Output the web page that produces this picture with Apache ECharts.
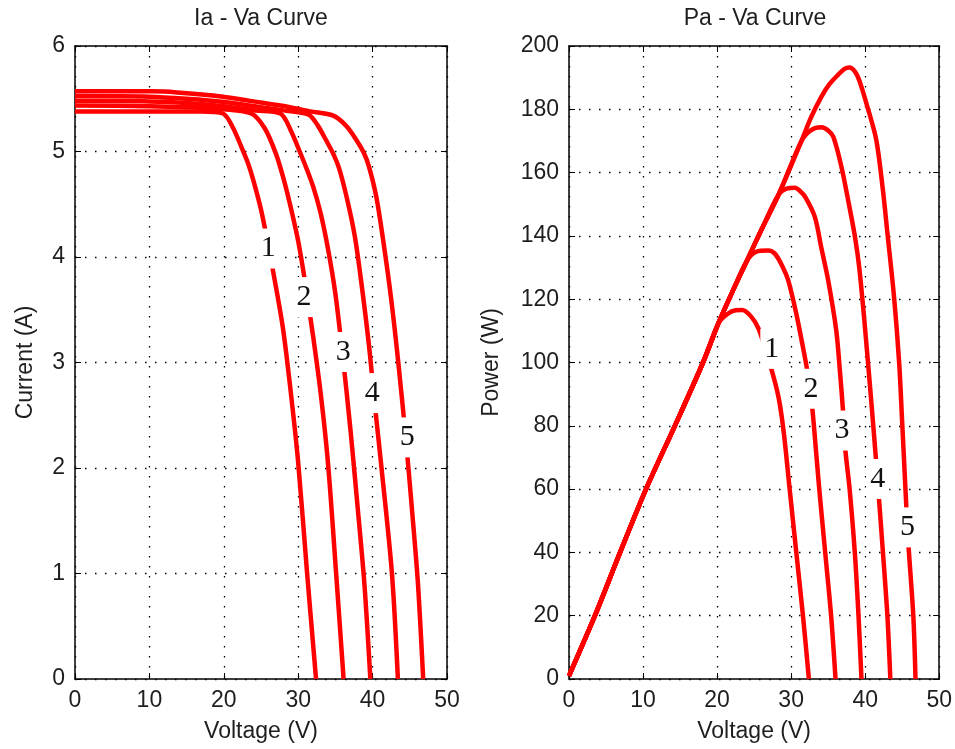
<!DOCTYPE html>
<html>
<head>
<meta charset="utf-8">
<script src="https://cdn.jsdelivr.net/npm/echarts@6/dist/echarts.min.js"></script>
<style>
html,body{margin:0;padding:0;background:#fff;}
#chart{width:955px;height:749px;}
</style>
</head>
<body>
<div id="chart"></div>
<script>
// ---------- Data (Voltage V, Current A) ----------
const ivCurve1 = [[0,5.38],[10,5.38],[17,5.38],[19.9,5.36],[21.2,5.23],[22.5,5.02],[23.3,4.88],[24.0,4.72],[25.0,4.45],[26.0,4.1],[27.0,3.72],[28.0,3.3],[29.0,2.72],[30.0,2.05],[31.2,1.0],[32.4,0]];
const ivCurve2 = [[0,5.435],[10,5.43],[15,5.42],[20,5.40],[23.7,5.36],[25.5,5.22],[27.0,4.98],[28.0,4.75],[29.0,4.47],[30.0,4.15],[31.0,3.73],[32.0,3.25],[33.0,2.72],[34.0,2.05],[35.1,1.0],[36.1,0]];
const ivCurve3 = [[0,5.48],[10,5.475],[15,5.46],[20,5.43],[24,5.39],[27.6,5.36],[29.0,5.2],[30.2,5.0],[31.0,4.86],[32.0,4.67],[33.0,4.42],[34.0,4.08],[35.0,3.65],[36.0,3.05],[37.0,2.38],[38.0,1.62],[38.9,0.9],[39.7,0]];
const ivCurve4 = [[0,5.525],[10,5.52],[15,5.5],[20,5.47],[25,5.42],[28,5.39],[31.4,5.35],[32.6,5.25],[33.8,5.10],[34.7,4.98],[35.5,4.84],[36.5,4.57],[37.6,4.2],[38.5,3.75],[39.5,3.17],[40.3,2.6],[41.2,2.0],[42.6,1.0],[43.4,0]];
const ivCurve5 = [[0,5.57],[10.3,5.57],[13.7,5.56],[19.9,5.52],[23.5,5.48],[28.9,5.42],[31.6,5.38],[34.7,5.34],[36.5,5.24],[37.9,5.10],[38.8,4.99],[39.5,4.86],[40.5,4.57],[41.5,4.12],[42.5,3.6],[43.5,2.97],[44.5,2.25],[45.3,1.6],[46.1,0.9],[46.8,0]];
const ivLabels = [[25.98,4.08,'1'],[30.78,3.62,'2'],[36.06,3.10,'3'],[39.96,2.71,'4'],[44.67,2.29,'5']];

// ---------- Data (Voltage V, Power W) ----------
const pvRise = [[0,1],[3.5,20],[6.9,40],[10.4,60],[14.3,80],[18.1,100],[20.2,112.5],[22,122],[24,132],[26,142],[28.3,153],[31.4,170]];
const pvCurve1Tail = [[21.5,115.5],[22.5,116.5],[23.4,116.6],[24.6,114.5],[25.6,110.7],[27.2,99],[28.3,89],[29.0,78],[29.8,60],[30.7,40],[31.6,20],[32.4,0]];
const pvCurve2Tail = [[25.3,135],[26.9,135.4],[27.8,134.4],[28.8,130.5],[29.6,126],[30.7,115.4],[31.5,106],[32.1,98.5],[32.8,86.9],[33.4,71],[33.8,60],[34.6,40],[35.4,20],[36.0,0]];
const pvCurve3Tail = [[29.5,155],[30.5,155.2],[31.2,154.2],[31.9,152.3],[33.2,146],[34.1,136],[35.0,126],[36.1,110],[36.6,97],[37.0,85],[37.3,73],[37.9,60],[38.6,40],[39.1,20],[39.5,0]];
const pvCurve4Tail = [[32.7,173.4],[34.1,174.3],[35.0,173.3],[35.7,171.3],[36.8,161.8],[37.7,151.3],[38.6,140],[39.2,130],[39.9,113],[40.6,94],[41.2,77],[41.8,59],[42.4,40],[43.0,20],[43.4,0]];
const pvCurve5Tail = [[32.7,177.5],[34.1,184],[35.2,188],[36.3,190.8],[37.2,192.8],[37.9,193.2],[38.6,192],[39.2,189.2],[40.3,180.8],[41.5,170.3],[42.4,154.4],[43.0,141],[43.9,120.7],[44.6,99.6],[45.0,81],[45.4,62],[45.8,44],[46.5,20],[46.8,0]];
const pvLabels = [[27.39,104.3,'1'],[32.67,91.7,'2'],[36.86,78.5,'3'],[41.69,63.2,'4'],[45.71,47.9,'5']];

const titles = ['Ia - Va Curve', 'Pa - Va Curve'];
const xName = 'Voltage (V)';
const yNames = ['Current (A)', 'Power (W)'];

// shared rising part up to each curve's departure voltage
function withRise(tail){
  const v0 = tail[0][0];
  return pvRise.filter(p => p[0] < v0).concat(tail);
}
const pvCurves = [pvCurve1Tail, pvCurve2Tail, pvCurve3Tail, pvCurve4Tail, pvCurve5Tail].map(withRise);
const ivCurves = [ivCurve1, ivCurve2, ivCurve3, ivCurve4, ivCurve5];

// ---------- Styling ----------
const SANS = 'Liberation Sans';
const TXT = '#1e1e1e';
const RED = '#ff0000';
const grids = [
  {left:75, top:46, width:372, height:633},
  {left:569, top:46, width:373, height:633}
];
const axisLineStyle = {color:'#000', width:1.5};
const tick = {show:true, inside:true, length:6, lineStyle:{color:'#000', width:1}};
const dotted = {show:true, lineStyle:{color:'#000', width:1.3, type:[1.5,8.5]}};
const labelStyle = {fontFamily:SANS, fontSize:23, color:TXT};

function mainX(gi){
  return {gridIndex:gi, type:'value', min:0, max:50, interval:10, position:'bottom',
    name:xName, nameLocation:'middle', nameGap:41, nameTextStyle:{fontFamily:SANS, fontSize:23, color:TXT},
    axisLine:{show:true, onZero:false, lineStyle:axisLineStyle}, axisTick:tick,
    axisLabel:Object.assign({margin:10}, labelStyle), splitLine:dotted};
}
function boxX(gi){
  return {gridIndex:gi, type:'value', min:0, max:50, interval:10, position:'top',
    axisLine:{show:true, onZero:false, lineStyle:axisLineStyle}, axisTick:tick,
    axisLabel:{show:false}, splitLine:{show:false}};
}
function mainY(gi, max, interval, gap){
  return {gridIndex:gi, type:'value', min:0, max:max, interval:interval, position:'left',
    name:yNames[gi], nameLocation:'middle', nameRotate:90, nameGap:gap, nameTextStyle:{fontFamily:SANS, fontSize:23, color:TXT},
    axisLine:{show:true, onZero:false, lineStyle:axisLineStyle}, axisTick:tick,
    axisLabel:Object.assign({margin:10}, labelStyle), splitLine:dotted};
}
function boxY(gi, max, interval){
  return {gridIndex:gi, type:'value', min:0, max:max, interval:interval, position:'right',
    axisLine:{show:true, onZero:false, lineStyle:axisLineStyle}, axisTick:tick,
    axisLabel:{show:false}, splitLine:{show:false}};
}

const series = [];
function curveSeries(name, xi, yi, d){
  return {name:name, type:'line', xAxisIndex:xi, yAxisIndex:yi, data:d,
    showSymbol:false, smooth:0.3, z:2,
    lineStyle:{color:RED, width:4.5}, itemStyle:{color:RED},
    emphasis:{disabled:true}};
}
ivCurves.forEach((d,i) => series.push(curveSeries('Ia-Va '+(i+1), 0, 0, d)));
pvCurves.forEach((d,i) => series.push(curveSeries('Pa-Va '+(i+1), 2, 2, d)));

const numLabel = {show:true, position:'inside', formatter:p => p.data[2],
  fontFamily:'Liberation Serif', fontSize:30, lineHeight:30, color:'#111111',
  backgroundColor:'#ffffff', padding:[5,4], opacity:1};
function labelSeries(xi, yi, d){
  return {type:'scatter', xAxisIndex:xi, yAxisIndex:yi, data:d, symbol:'rect', symbolSize:1,
    itemStyle:{color:'#ffffff', opacity:1}, label:numLabel, z:10, silent:true,
    emphasis:{disabled:true}};
}
series.push(labelSeries(0, 0, ivLabels));
series.push(labelSeries(2, 2, pvLabels));

const chart = echarts.init(document.getElementById('chart'), null, {renderer:'canvas'});
chart.setOption({
  animation:false,
  backgroundColor:'#ffffff',
  grid:grids,
  xAxis:[mainX(0), boxX(0), mainX(1), boxX(1)],
  yAxis:[mainY(0,6,1,38), boxY(0,6,1), mainY(1,200,20,66), boxY(1,200,20)],
  graphic:[
    {type:'text', x:261, y:19, style:{text:titles[0], textAlign:'center', textVerticalAlign:'middle', font:'23px "Liberation Sans"', fill:TXT}},
    {type:'text', x:755, y:19, style:{text:titles[1], textAlign:'center', textVerticalAlign:'middle', font:'23px "Liberation Sans"', fill:TXT}}
  ],
  series:series
});
</script>
</body>
</html>
